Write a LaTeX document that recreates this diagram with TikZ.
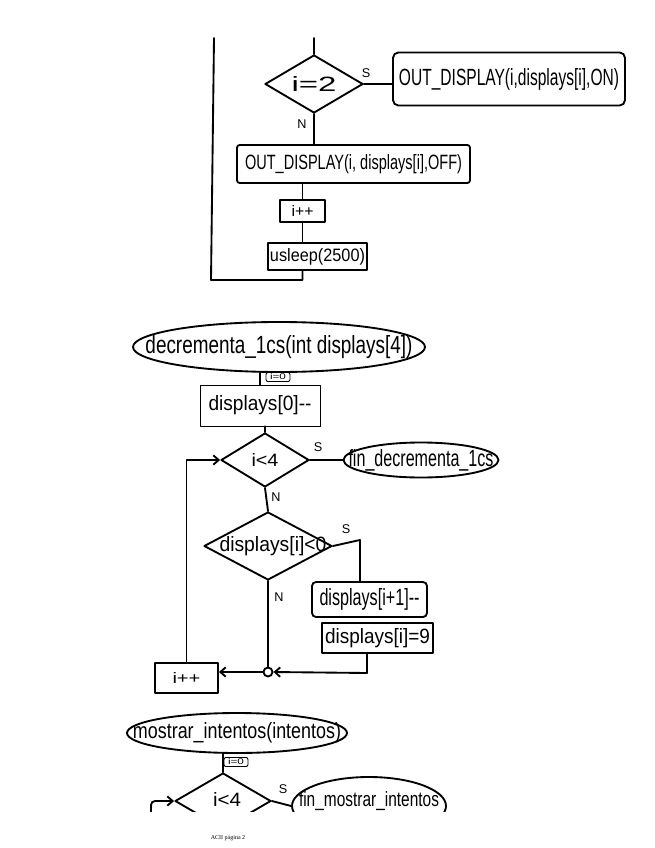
\documentclass[tikz,border=0pt]{standalone}
\usepackage{graphicx}
\usepackage{fontspec}
\setmainfont{Liberation Sans}
\newfontfamily\footfont{Liberation Serif}
\usetikzlibrary{shapes.geometric,arrows.meta,calc}
\newlength\pxu \setlength\pxu{0.75pt}
\newcommand\hw[3]{\resizebox{#1\pxu}{#2\pxu}{#3}}
\begin{document}
\begin{tikzpicture}[x=0.75pt,y=-0.75pt,
  hand/.style={line width=1.4pt, line join=round, line cap=round},
  box/.style={draw, hand, rectangle, inner sep=0pt},
  dia/.style={draw, hand, diamond, inner sep=0pt},
  ell/.style={draw, hand, ellipse, inner sep=0pt},
  lab/.style={inner sep=0pt, font=\fontsize{9.5}{10}\selectfont},
  tag/.style={draw, line width=0.7pt, rounded corners=1.5pt, minimum width=24\pxu, minimum height=9\pxu, inner sep=0pt},
  arr/.style={-{Straight Barb[length=4pt,width=7pt]}}]
\useasboundingbox (0,0) rectangle (655,848);

% ---------- top part ----------
\coordinate (lt) at (214,38);
\coordinate (lb) at (211,280);
\coordinate (t0) at (314,38);
\node[dia, minimum width=98\pxu, minimum height=58\pxu, label={center:{\hw{45}{15}{i=2}}}] (d1) at (314,84) {};
\node[box, rounded corners=4pt, minimum width=232\pxu, minimum height=53\pxu] (on) at (509,79) {\hw{220}{17}{OUT\_DISPLAY(i,displays[i],ON)}};
\node[box, rounded corners=2pt, minimum width=233\pxu, minimum height=38\pxu] (off) at (353.5,164) {\hw{217}{15}{OUT\_DISPLAY(i, displays[i],OFF)}};
\node[box, minimum width=45\pxu, minimum height=22\pxu] (ip1) at (302.5,211) {\hw{22}{11}{i++}};
\node[box, minimum width=99\pxu, minimum height=27\pxu] (us) at (317.5,256.5) {\hw{95}{13}{usleep(2500)}};
\draw[hand] (t0) -- (d1.north);
\draw[hand] (d1.east) -- (d1.east -| on.west);
\node[lab] (s1) at (366,73) {S};
\draw[hand] (d1.south) -- (d1.south |- off.north);
\node[lab] (n1) at (302,124) {N};
\draw[hand] (off.south -| ip1) -- (ip1.north);
\draw[hand] (ip1.south) -- (ip1.south |- us.north);
\draw[hand] (us.south -| ip1) |- (lb) -- (lt);

% ---------- decrementa_1cs ----------
\node[ell, minimum width=292\pxu, minimum height=50\pxu, label={center:{\hw{267}{18}{decrementa\_1cs(int displays[4])}}}] (e1) at (279,347) {};
\node[box, line width=0.6pt, minimum width=120\pxu, minimum height=41\pxu] (b0) at (260,405.5) {\hw{103}{15}{displays[0]-{}-}};
\node[tag] (t1) at (278,377) {\hw{16}{6}{i=0}};
\draw[hand] (e1.south -| b0) -- (b0.north);
\node[dia, minimum width=88\pxu, minimum height=54\pxu, label={center:{\hw{27}{13}{i<4}}}] (d2) at (265,460) {};
\draw[hand] (b0.south -| d2) -- (d2.north);
\node[ell, minimum width=155\pxu, minimum height=35\pxu, label={center:{\hw{145}{17}{fin\_decrementa\_1cs}}}] (e2) at (421,460) {};
\draw[hand] (d2.east) -- (e2.west);
\node[lab] (s2) at (318,447) {S};
\node[dia, minimum width=128\pxu, minimum height=68\pxu, label={[xshift=5\pxu]center:{\hw{107}{15}{displays[i]<0}}}] (d3) at (268,546) {};
\draw[hand] (d2.south) -- (d3.north);
\node[lab] (n2) at (276,497) {N};
\coordinate (c1) at (360,540);
\node[box, rounded corners=3pt, minimum width=115\pxu, minimum height=35\pxu] (bi1) at (369.5,599.5) {\hw{100}{17}{displays[i+1]-{}-}};
\node[box, minimum width=111\pxu, minimum height=30\pxu] (b9) at (377.5,638) {\hw{105}{15}{displays[i]=9}};
\draw[hand] (d3.east) -- (c1) -- (c1 |- bi1.north);
\node[lab] (s3) at (346,529) {S};
\node[circle, draw, hand, minimum size=9\pxu, inner sep=0pt] (j) at (268,672) {};
\coordinate (c2) at (367,673);
\draw[hand, arr] (b9.south -| c2) -- (c2) -- (j.east);
\draw[hand] (d3.south) -- (j.north);
\node[lab] (n3) at (279,597) {N};
\node[box, minimum width=63\pxu, minimum height=30\pxu] (ip2) at (186.5,678) {\hw{28}{11}{i++}};
\draw[hand, arr] (j.west) -- (j.west -| ip2.east);
\draw[hand, arr] (ip2.north) -- (ip2.north |- d2.west) -- (d2.west);

% ---------- mostrar_intentos (cut at the page edge) ----------
\begin{scope}
\clip (0,0) rectangle (655,811);
\node[ell, minimum width=220\pxu, minimum height=40\pxu, label={center:{\hw{208}{16}{mostrar\_intentos(intentos)}}}] (e3) at (237,733) {};
\node[dia, minimum width=96\pxu, minimum height=56\pxu, label={[xshift=4\pxu,yshift=2\pxu]center:{\hw{28}{14}{i<4}}}] (d4) at (223,801) {};
\draw[hand] (d4.north |- e3.south) -- (d4.north);
\node[tag] (t2) at (236,762) {\hw{16}{6}{i=0}};
\node[ell, minimum width=154\pxu, minimum height=58\pxu, label={[yshift=5\pxu]center:{\hw{140}{15}{fin\_mostrar\_intentos}}}] (e4) at (369,806) {};
\draw[hand] (d4.east) -- (e4.west);
\node[lab] (s4) at (283,789) {S};
\coordinate (lp) at (151,818);
\draw[hand, arr, rounded corners=3pt] (lp) |- (d4.west);
\end{scope}

\node[inner sep=0pt, font=\footfont\fontsize{4.5}{5}\selectfont] (ft) at (228,838) {ACII página 2};
\end{tikzpicture}
\end{document}
